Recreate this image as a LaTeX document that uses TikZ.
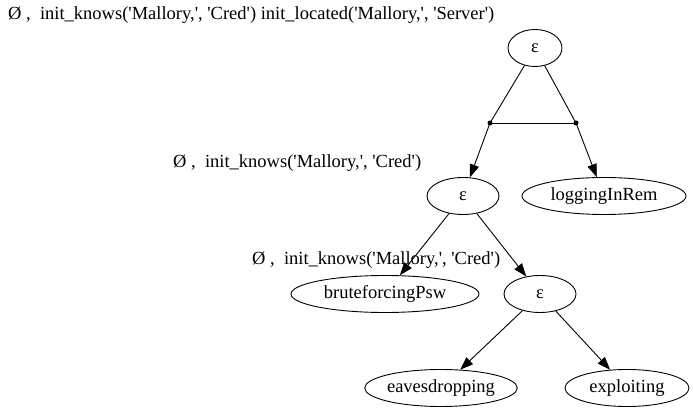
\documentclass[tikz,border=0pt]{standalone}
\usepackage{fontspec}
\setmainfont{Liberation Serif}
\usetikzlibrary{shapes.geometric,arrows.meta}
\newcommand{\sq}{\textquotesingle}
\begin{document}
\begin{tikzpicture}[x=1pt,y=-1pt,
  el/.style={draw, ellipse, inner sep=0pt, minimum height=37pt, line width=0.9pt, font=\fontsize{18.5}{21}\selectfont},
  lab/.style={anchor=west, inner sep=0pt, font=\fontsize{18.5}{21}\selectfont},
  dotj/.style={circle, fill, inner sep=0pt, minimum size=5pt},
  arr/.style={-{Triangle[length=13pt,width=9.5pt]}, line width=0.9pt},
  ln/.style={line width=0.9pt}]
\useasboundingbox (0,0) rectangle (693,419);
\node[lab] (l1) at (8,15) {Ø ,\ \ init\_knows(\sq Mallory,\sq, \sq Cred\sq) init\_located(\sq Mallory,\sq, \sq Server\sq)};
\node[el, minimum width=54pt] (e1) at (535,48) {ε};
\node[dotj] (j1) at (490,123) {};
\node[dotj] (j2) at (576,123) {};
\node[lab] (l2) at (173,163) {Ø ,\ \ init\_knows(\sq Mallory,\sq, \sq Cred\sq)};
\node[el, minimum width=72pt] (e2) at (463,196) {ε};
\node[el, minimum width=164pt] (lr) at (604,196) {loggingInRem};
\node[lab] (l3) at (252,260) {Ø ,\ \ init\_knows(\sq Mallory,\sq, \sq Cred\sq)};
\node[el, minimum width=188pt] (bf) at (385,294) {bruteforcingPsw};
\node[el, minimum width=72pt] (e3) at (540,294) {ε};
\node[el, minimum width=140pt] (ev) at (441,388) {eavesdropping};
\node[el, minimum width=124pt] (ex) at (627,388) {exploiting};
\draw[ln] (e1) -- (j1.center);
\draw[ln] (e1) -- (j2.center);
\draw[ln] (j1.center) -- (j2.center);
\draw[arr] (j1.center) -- (e2);
\draw[arr] (j2.center) -- (lr);
\draw[arr] (e2) -- (bf);
\draw[arr] (e2) -- (e3);
\draw[arr] (e3) -- (ev);
\draw[arr] (e3) -- (ex);
\end{tikzpicture}
\end{document}
